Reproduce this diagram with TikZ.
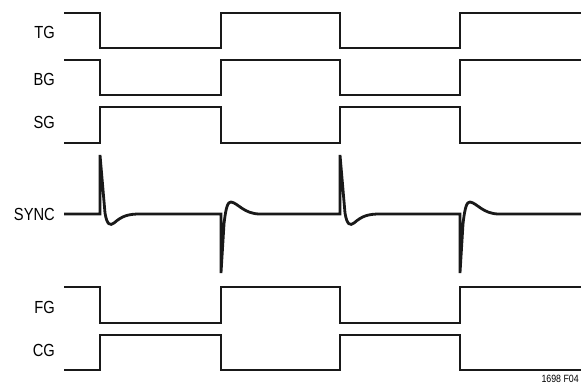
\documentclass[tikz,border=0pt]{standalone}
\usepackage{fontspec}
\setmainfont{Liberation Sans}[FakeStretch=0.84]
\begin{document}
\begin{tikzpicture}[
		x=1pt, y=-1pt,
		lbl/.style = {anchor=east, inner sep=0pt, font=\fontsize{17.5}{18}\selectfont},
		w/.style = {line width=2.8pt, line join=miter, black!90},
		]
		\useasboundingbox (0,0) rectangle (581,385);
		
		%Nodes
		\node[lbl]	(tg)	at	(55, 32)	{TG};
		\node[lbl]	(bg)	at	(55, 79)	{BG};
		\node[lbl]	(sg)	at	(55, 122)	{SG};
		\node[lbl]	(sync)	at	(55, 214)	{SYNC};
		\node[lbl]	(fg)	at	(55, 307)	{FG};
		\node[lbl]	(cg)	at	(55, 350)	{CG};
		\node[anchor=east, inner sep=0pt, font=\fontsize{10.5}{11}\selectfont]	(fig)	at	(579, 379)	{1698 F04};
		
		%Lines
		\draw[w]	(64, 13) -- (100, 13) -- (100, 48) -- (221, 48) -- (221, 13) -- (340, 13) -- (340, 48) -- (460, 48) -- (460, 13) -- (581, 13);
		\draw[w]	(64, 60) -- (100, 60) -- (100, 95) -- (221, 95) -- (221, 60) -- (340, 60) -- (340, 95) -- (460, 95) -- (460, 60) -- (581, 60);
		\draw[w]	(64, 143) -- (100, 143) -- (100, 107) -- (221, 107) -- (221, 143) -- (340, 143) -- (340, 107) -- (460, 107) -- (460, 143) -- (581, 143);
		\draw[w]	(64, 214) -- (100, 214) -- (100, 155) -- (105, 213) .. controls (107, 225) and (110, 226) .. (114, 223)
			.. controls (122, 216) and (128, 214) .. (140, 214) -- (221, 214) -- (221, 273) -- (224, 224)
			.. controls (226, 206) and (228, 202) .. (231, 202) .. controls (238, 203) and (244, 214) .. (260, 214)
			-- (340, 214) -- (340, 155) -- (345, 213) .. controls (347, 225) and (350, 226) .. (354, 223)
			.. controls (362, 216) and (368, 214) .. (380, 214) -- (460, 214) -- (460, 273) -- (463, 224)
			.. controls (465, 206) and (467, 202) .. (470, 202) .. controls (477, 203) and (483, 214) .. (499, 214) -- (581, 214);
		\draw[w]	(64, 287) -- (100, 287) -- (100, 323) -- (221, 323) -- (221, 287) -- (340, 287) -- (340, 323) -- (460, 323) -- (460, 287) -- (581, 287);
		\draw[w]	(64, 370) -- (100, 370) -- (100, 335) -- (221, 335) -- (221, 370) -- (340, 370) -- (340, 335) -- (460, 335) -- (460, 370) -- (581, 370);
	\end{tikzpicture}
\end{document}
